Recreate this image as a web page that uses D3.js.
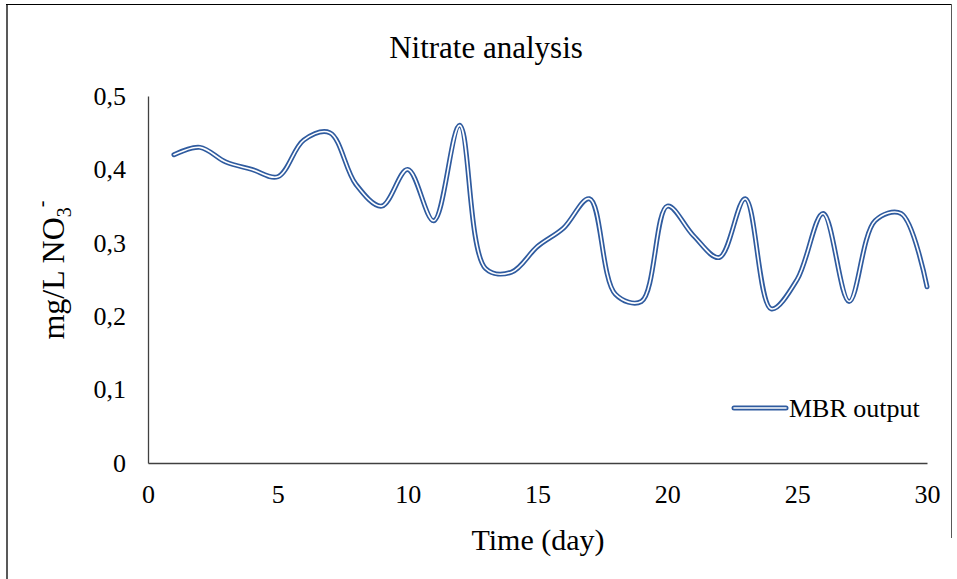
<!DOCTYPE html>
<html>
<head>
<meta charset="utf-8">
<script src="https://cdn.jsdelivr.net/npm/d3@7"></script>
<style>
  html, body { margin: 0; padding: 0; background: #fff; }
  svg { display: block; font-family: "Liberation Serif", "Times New Roman", serif; }
</style>
</head>
<body>
<svg id="chart" width="957" height="579"></svg>
<script>
// ---- data ----
const days = [1,2,3,4,5,6,7,8,9,10,11,12,13,14,15,16,17,18,19,20,21,22,23,24,25,26,27,28,29,30];
const mbrOutput = [0.42,0.43,0.41,0.40,0.39,0.44,0.45,0.38,0.35,0.40,0.33,0.46,0.265,0.26,0.295,0.32,0.36,0.23,0.22,0.35,0.31,0.28,0.36,0.21,0.25,0.34,0.22,0.33,0.34,0.24];
const xTicks = [0,5,10,15,20,25,30];
const yTicks = [0,0.1,0.2,0.3,0.4,0.5];
const yTickLabels = ["0","0,1","0,2","0,3","0,4","0,5"];
const title = "Nitrate analysis";
const xTitle = "Time (day)";
const seriesName = "MBR output";

const svg = d3.select("#chart");
const W = 957, H = 579;
const m = { left: 148, right: 30, top: 96, bottom: 116 };

// outer border
svg.append("line").attr("x1", 7).attr("x2", 7).attr("y1", 4).attr("y2", H).attr("stroke", "#595959").attr("stroke-width", 2);
svg.append("line").attr("x1", 6).attr("x2", 952).attr("y1", 4.5).attr("y2", 4.5).attr("stroke", "#000").attr("stroke-width", 1);
svg.append("line").attr("x1", 951.5).attr("x2", 951.5).attr("y1", 4).attr("y2", 538).attr("stroke", "#595959").attr("stroke-width", 1);

const x = d3.scaleLinear().domain([0, 30]).range([m.left, W - m.right]);
const y = d3.scaleLinear().domain([0, 0.5]).range([H - m.bottom, m.top]);

// axes
const xAxis = svg.append("g").attr("transform", `translate(0,${y(0)})`)
  .call(d3.axisBottom(x).tickValues(xTicks).tickSize(0).tickPadding(22).tickFormat(d3.format("d")));
xAxis.select(".domain").attr("stroke", "#404040").attr("stroke-width", 1.3);
xAxis.selectAll("text").attr("font-size", 26).attr("fill", "#000").attr("font-family", "Liberation Serif");

const yAxis = svg.append("g").attr("transform", `translate(${x(0)},0)`)
  .call(d3.axisLeft(y).tickValues(yTicks).tickSize(0).tickPadding(22).tickFormat((d, i) => yTickLabels[i]));
yAxis.select(".domain").attr("stroke", "#404040").attr("stroke-width", 1.3);
yAxis.selectAll("text").attr("font-size", 26).attr("fill", "#000").attr("font-family", "Liberation Serif");

// line (double compound)
const data = days.map((d, i) => ({ d, v: mbrOutput[i] }));
const line = d3.line().x(p => x(p.d)).y(p => y(p.v)).curve(d3.curveCatmullRom.alpha(0.5));
svg.append("path").datum(data).attr("d", line).attr("fill", "none")
  .attr("stroke", "#2f5b9f").attr("stroke-width", 5).attr("stroke-linecap", "round").attr("stroke-linejoin", "round");
svg.append("path").datum(data).attr("d", line).attr("fill", "none")
  .attr("stroke", "#fff").attr("stroke-width", 1.6).attr("stroke-linecap", "round").attr("stroke-linejoin", "round");

// title
svg.append("text").attr("x", 486).attr("y", 58).attr("text-anchor", "middle")
  .attr("font-size", 31).attr("fill", "#000").text(title);

// x title
svg.append("text").attr("x", 538).attr("y", 550).attr("text-anchor", "middle")
  .attr("font-size", 30).attr("fill", "#000").text(xTitle);

// y title with subscript / superscript
const yt = svg.append("text").attr("transform", `translate(64,270) rotate(-90)`)
  .attr("text-anchor", "middle").attr("font-size", 32).attr("fill", "#000");
yt.append("tspan").text("mg/L NO");
yt.append("tspan").attr("font-size", 20).attr("dy", 7).text("3");
yt.append("tspan").attr("font-size", 20).attr("dy", -23).text("-");

// legend
const lg = svg.append("g");
const ly = 408;
lg.append("line").attr("x1", 734).attr("x2", 786).attr("y1", ly).attr("y2", ly)
  .attr("stroke", "#2f5b9f").attr("stroke-width", 5).attr("stroke-linecap", "round");
lg.append("line").attr("x1", 734).attr("x2", 786).attr("y1", ly).attr("y2", ly)
  .attr("stroke", "#fff").attr("stroke-width", 1.6).attr("stroke-linecap", "round");
lg.append("text").attr("x", 789).attr("y", ly + 9).attr("font-size", 26).attr("fill", "#000").text(seriesName);
</script>
</body>
</html>
